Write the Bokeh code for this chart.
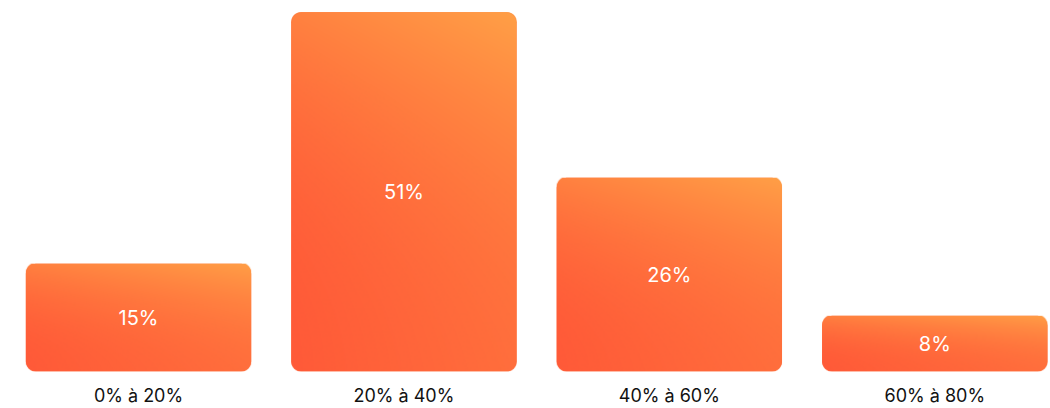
import numpy as np
from bokeh.plotting import figure
from bokeh.models import Range1d, FixedTicker, ColumnDataSource
from bokeh.embed import file_html
from bokeh.resources import INLINE
from bokeh.core.properties import value

# ---- data -------------------------------------------------------------
categories = ["0% à 20%", "20% à 40%", "40% à 60%", "60% à 80%"]
shares = [15, 51, 26, 8]                 # percentages printed on the bars
bar_heights = [15.3, 51.0, 27.5, 7.9]    # bar heights as drawn in the picture
labels = [f"{s}%" for s in shares]
positions = list(range(len(categories)))

# ---- style ------------------------------------------------------------
W, H = 1050, 408
BOTTOM = 36
X0, X1 = -0.52, 3.436
Y0, Y1 = 0, 52.65
BAR_W = 0.849
RADIUS = 10
RED = np.array([255, 90, 56], dtype=float)
ORANGE = np.array([255, 158, 70], dtype=float)

p = figure(width=W, height=H, output_backend="svg", toolbar_location=None,
           x_range=Range1d(X0, X1), y_range=Range1d(Y0, Y1),
           min_border_left=0, min_border_right=0, min_border_top=0,
           min_border_bottom=BOTTOM, y_axis_location=None)
p.outline_line_color = None
p.xgrid.grid_line_color = None
p.ygrid.grid_line_color = None
p.background_fill_color = "white"
p.border_fill_color = "white"

sx = W / (X1 - X0)
sy = (H - BOTTOM) / (Y1 - Y0)


def gradient_image(npx_w, npx_h, r):
    u = (np.arange(npx_w) + 0.5) / npx_w
    v = (np.arange(npx_h) + 0.5) / npx_h
    U, V = np.meshgrid(u, v)
    t = 0.58 * V ** 2.2 + 0.30 * U + 0.15 * U * V
    t = np.clip(t, 0, 1)
    rgb = RED[None, None, :] * (1 - t[..., None]) + ORANGE[None, None, :] * t[..., None]
    # rounded-corner alpha mask
    px = np.arange(npx_w) + 0.5
    py = np.arange(npx_h) + 0.5
    PX, PY = np.meshgrid(px, py)
    cx = np.clip(PX, r, npx_w - r)
    cy = np.clip(PY, r, npx_h - r)
    d = np.sqrt((PX - cx) ** 2 + (PY - cy) ** 2)
    alpha = np.clip(r - d + 0.5, 0, 1)
    img = np.empty((npx_h, npx_w), dtype=np.uint32)
    view = img.view(dtype=np.uint8).reshape((npx_h, npx_w, 4))
    view[..., 0] = rgb[..., 0].astype(np.uint8)
    view[..., 1] = rgb[..., 1].astype(np.uint8)
    view[..., 2] = rgb[..., 2].astype(np.uint8)
    view[..., 3] = (alpha * 255).astype(np.uint8)
    return img


images, img_x, img_dw, img_dh = [], [], [], []
for pos, h in zip(positions, bar_heights):
    nw = int(round(BAR_W * sx))
    nh = int(round(h * sy))
    images.append(gradient_image(nw, nh, RADIUS))
    img_x.append(pos - BAR_W / 2)
    img_dw.append(BAR_W)
    img_dh.append(h)

bars = ColumnDataSource(dict(x=positions, top=bar_heights, mid=[h / 2 for h in bar_heights],
                             label=labels))
p.vbar(x="x", top="top", bottom=0, width=BAR_W, source=bars,
       fill_color="#FF7440", line_color=None, border_radius=RADIUS)

imgs = ColumnDataSource(dict(image=images, x=img_x, y=[0] * len(images), dw=img_dw, dh=img_dh))
p.image_rgba(image="image", x="x", y="y", dw="dw", dh="dh", source=imgs)

p.text(x="x", y="mid", text="label", source=bars, text_color="white",
       text_font=value("Inter"), text_font_size="20px",
       text_align="center", text_baseline="middle")

ax = p.xaxis[0]
ax.ticker = FixedTicker(ticks=positions)
ax.major_label_overrides = {i: c for i, c in zip(positions, categories)}
ax.axis_line_color = None
ax.major_tick_line_color = None
ax.minor_tick_line_color = None
ax.major_tick_out = 0
ax.major_tick_in = 0
ax.major_label_text_font = "Inter"
ax.major_label_text_font_size = "18px"
ax.major_label_text_color = "#111111"
ax.major_label_standoff = 13

open("out.html", "w").write(file_html(p, INLINE))
